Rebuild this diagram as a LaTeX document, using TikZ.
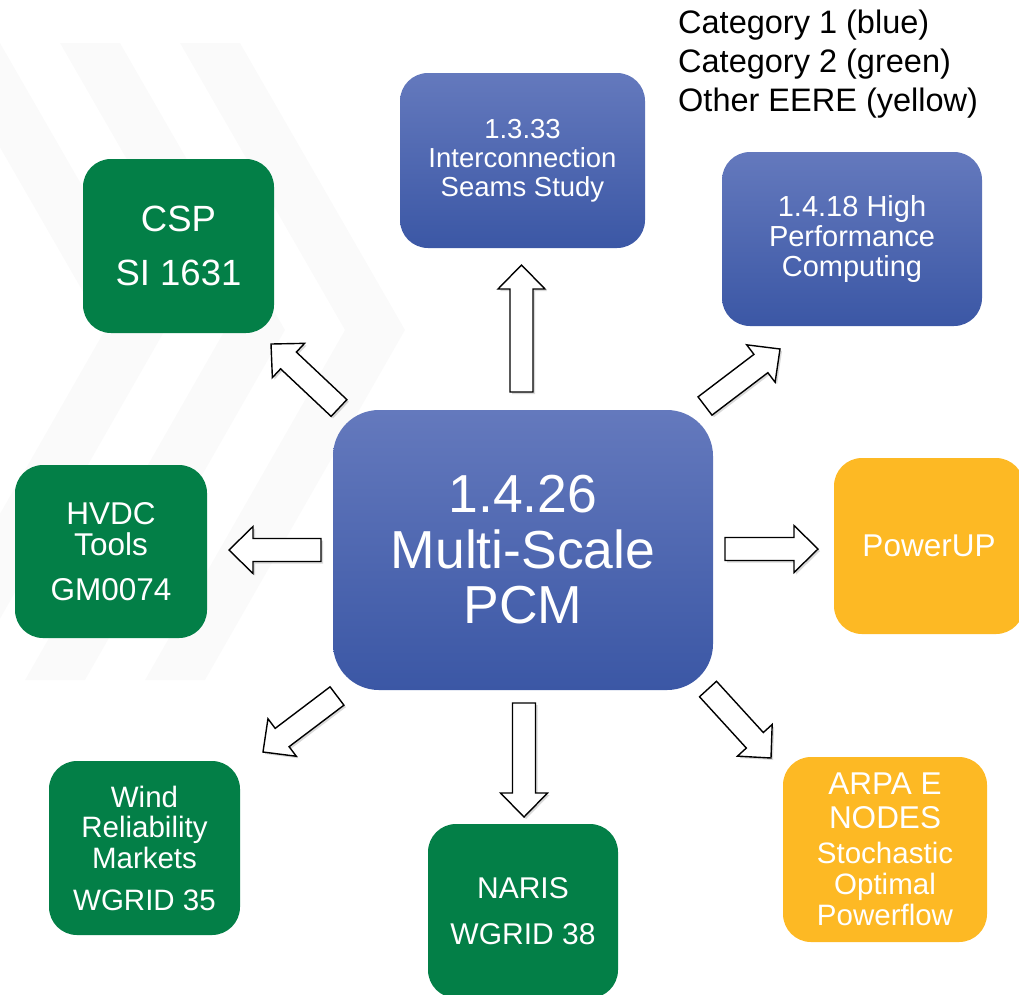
\documentclass[tikz,border=0pt]{standalone}
\usepackage{fontspec}
\setmainfont{Liberation Sans}
\usetikzlibrary{calc,shadows}
\definecolor{cattop}{RGB}{100,121,189}
\definecolor{catbot}{RGB}{59,87,165}
\definecolor{catgreen}{RGB}{3,127,71}
\definecolor{cateere}{RGB}{253,185,36}
\definecolor{chevron}{RGB}{250,250,250}
% block arrow from tail #1 to tip #2
\newcommand{\blockarrow}[2]{%
  \draw[blockarr] ($(#1)!11.5pt!90:(#2)$) -- ($(#2)!24pt!(#1)!11.5pt!-90:(#1)$)
    -- ($(#2)!24pt!(#1)!23.5pt!-90:(#1)$) -- (#2)
    -- ($(#2)!24pt!(#1)!23.5pt!90:(#1)$) -- ($(#2)!24pt!(#1)!11.5pt!90:(#1)$)
    -- ($(#1)!11.5pt!-90:(#2)$) -- cycle;}
\begin{document}
\begin{tikzpicture}[x=1pt,y=-1pt,
  box/.style={rounded corners=28pt,inner sep=0pt,text=white,align=center},
  catblue/.style={box,top color=cattop,bottom color=catbot},
  catgreen/.style={box,fill=catgreen},
  cateere/.style={box,fill=cateere},
  blockarr/.style={draw=black,line width=1.4pt,fill=white,line join=miter,
    drop shadow={shadow xshift=2pt,shadow yshift=-2pt,opacity=.3}}]
\path[use as bounding box] (0,0) rectangle (1019,994);
% faint background chevrons
\begin{scope}
\clip (0,0) rectangle (1019,994);
\foreach \s in {-60,60,180}
  \fill[chevron] (\s,43) -- ++(60,0) -- ++(165,287) -- ++(-200,350) -- ++(-60,0) -- ++(200,-350) -- cycle;
\end{scope}
\node[inner sep=0pt,anchor=north west,align=left,font=\fontsize{32.5}{39}\selectfont] (legend) at (678,10) {Category 1 (blue)\\Category 2 (green)\\Other EERE (yellow)};
\node[catblue,minimum width=380pt,minimum height=280pt,rounded corners=46pt,font=\fontsize{53.5}{55.5}\selectfont] (pcm) at (523,550) {1.4.26\\Multi-Scale\\PCM};
\node[catblue,minimum width=245pt,minimum height=175pt,font=\fontsize{27.5}{29}\selectfont] (seams) at (522.5,160.5) {1.3.33\\Interconnection\\Seams Study};
\node[catblue,minimum width=260pt,minimum height=174pt,font=\fontsize{29}{30}\selectfont] (hpc) at (852,239) {1.4.18 High\\Performance\\Computing};
\node[catgreen,minimum width=191pt,minimum height=174pt,font=\fontsize{36.5}{54}\selectfont] (csp) at (178.5,246) {CSP\\SI 1631};
\node[catgreen,minimum width=192pt,minimum height=173pt,font=\fontsize{31.5}{31}\selectfont] (hvdc) at (111,551.5) {HVDC\\Tools\\[14pt]GM0074};
\node[catgreen,minimum width=191pt,minimum height=174pt,font=\fontsize{29.5}{30.5}\selectfont] (wind) at (144.5,848) {Wind\\Reliability\\Markets\\[11.5pt]WGRID 35};
\node[catgreen,minimum width=190pt,minimum height=174pt,font=\fontsize{30}{46}\selectfont] (naris) at (523,911) {NARIS\\WGRID 38};
\node[cateere,minimum width=190pt,minimum height=176pt,font=\fontsize{31.5}{38}\selectfont] (powerup) at (929,546) {PowerUP};
\node[cateere,minimum width=204pt,minimum height=185pt,font=\fontsize{29.5}{31}\selectfont] (nodes) at (885,849.5) {\fontsize{31.5}{34}\selectfont ARPA E\\[3pt]\fontsize{31.5}{34}\selectfont NODES\\[4pt]Stochastic\\Optimal\\Powerflow};
% arrow ends
\coordinate (tcsp) at (339,408);      \coordinate (hcsp) at (271,344);
\coordinate (tseams) at (521.5,392);  \coordinate (hseams) at (521.5,265);
\coordinate (thpc) at (705,406);      \coordinate (hhpc) at (780,349);
\coordinate (thvdc) at (321,550);     \coordinate (hhvdc) at (229,550);
\coordinate (tpowerup) at (725,549);  \coordinate (hpowerup) at (818,549);
\coordinate (twind) at (337,696);     \coordinate (hwind) at (263,752);
\coordinate (tnaris) at (524,703);    \coordinate (hnaris) at (524,817);
\coordinate (tnodes) at (708,689);    \coordinate (hnodes) at (771,758);
\foreach \a in {csp,seams,hpc,hvdc,powerup,wind,naris,nodes}
  \blockarrow{t\a}{h\a};
\end{tikzpicture}
\end{document}
